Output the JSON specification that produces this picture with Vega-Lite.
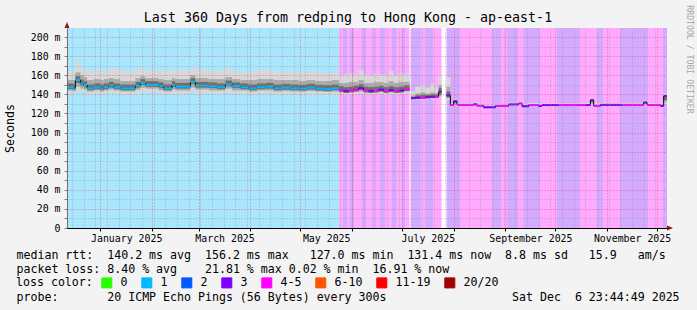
{
  "$schema": "https://vega.github.io/schema/vega-lite/v6.json",
  "width": 600,
  "height": 200,
  "autosize": {"type": "none"},
  "padding": {"left": 67, "top": 28, "right": 30, "bottom": 82},
  "background": "#f3f3f3",
  "config": {
    "view": {"fill": "white", "stroke": null},
    "font": "DejaVu Sans Mono",
    "axis": {"labelFont": "DejaVu Sans Mono", "labelFontSize": 9.9, "labelColor": "black", "titleFont": "DejaVu Sans Mono", "titleFontWeight": "normal", "titleColor": "black", "labelFlush": false, "labelOverlap": false, "labelBound": false}
  },
  "title": {"text": "Last 360 Days from redping to Hong Kong - ap-east-1", "font": "DejaVu Sans Mono", "fontSize": 13.3, "fontWeight": "normal", "color": "black", "anchor": "middle", "frame": "group", "dx": -19, "dy": 24, "offset": 4},
  "datasets": {
    "bg": [
      {"t": "2024-12-11T23:45:00Z", "e": "2025-05-24T04:00:00Z", "L": "1"},
      {"t": "2025-05-24T04:00:00Z", "e": "2025-05-26T14:00:00Z", "L": "4-5"},
      {"t": "2025-05-26T14:00:00Z", "e": "2025-05-29T04:00:00Z", "L": "3"},
      {"t": "2025-05-29T04:00:00Z", "e": "2025-05-30T19:00:00Z", "L": "4-5"},
      {"t": "2025-05-30T19:00:00Z", "e": "2025-06-02T04:00:00Z", "L": "3"},
      {"t": "2025-06-02T04:00:00Z", "e": "2025-06-06T19:00:00Z", "L": "4-5"},
      {"t": "2025-06-06T19:00:00Z", "e": "2025-06-09T09:00:00Z", "L": "3"},
      {"t": "2025-06-09T09:00:00Z", "e": "2025-06-12T19:00:00Z", "L": "4-5"},
      {"t": "2025-06-12T19:00:00Z", "e": "2025-06-14T19:00:00Z", "L": "3"},
      {"t": "2025-06-14T19:00:00Z", "e": "2025-06-17T19:00:00Z", "L": "4-5"},
      {"t": "2025-06-17T19:00:00Z", "e": "2025-06-20T19:00:00Z", "L": "3"},
      {"t": "2025-06-20T19:00:00Z", "e": "2025-06-24T19:00:00Z", "L": "4-5"},
      {"t": "2025-06-24T19:00:00Z", "e": "2025-06-27T19:00:00Z", "L": "3"},
      {"t": "2025-06-27T19:00:00Z", "e": "2025-06-30T19:00:00Z", "L": "4-5"},
      {"t": "2025-06-30T19:00:00Z", "e": "2025-07-02T19:00:00Z", "L": "3"},
      {"t": "2025-07-02T19:00:00Z", "e": "2025-07-05T12:00:00Z", "L": "4-5"},
      {"t": "2025-07-06T09:00:00Z", "e": "2025-07-12T19:00:00Z", "L": "3"},
      {"t": "2025-07-12T19:00:00Z", "e": "2025-07-14T19:00:00Z", "L": "4-5"},
      {"t": "2025-07-14T19:00:00Z", "e": "2025-07-19T14:00:00Z", "L": "3"},
      {"t": "2025-07-19T14:00:00Z", "e": "2025-07-24T17:00:00Z", "L": "4-5"},
      {"t": "2025-07-27T17:00:00Z", "e": "2025-08-04T19:00:00Z", "L": "3"},
      {"t": "2025-08-04T19:00:00Z", "e": "2025-08-23T19:00:00Z", "L": "4-5"},
      {"t": "2025-08-23T19:00:00Z", "e": "2025-08-29T19:00:00Z", "L": "3"},
      {"t": "2025-08-29T19:00:00Z", "e": "2025-09-01T19:00:00Z", "L": "4-5"},
      {"t": "2025-09-01T19:00:00Z", "e": "2025-09-08T18:00:00Z", "L": "3"},
      {"t": "2025-09-08T18:00:00Z", "e": "2025-09-11T18:00:00Z", "L": "4-5"},
      {"t": "2025-09-11T18:00:00Z", "e": "2025-09-21T19:00:00Z", "L": "3"},
      {"t": "2025-09-21T19:00:00Z", "e": "2025-10-01T19:00:00Z", "L": "4-5"},
      {"t": "2025-10-01T19:00:00Z", "e": "2025-10-15T19:00:00Z", "L": "3"},
      {"t": "2025-10-15T19:00:00Z", "e": "2025-10-25T19:00:00Z", "L": "4-5"},
      {"t": "2025-10-25T19:00:00Z", "e": "2025-10-29T18:00:00Z", "L": "3"},
      {"t": "2025-10-29T18:00:00Z", "e": "2025-11-08T19:00:00Z", "L": "4-5"},
      {"t": "2025-11-08T19:00:00Z", "e": "2025-11-25T14:00:00Z", "L": "3"},
      {"t": "2025-11-25T14:00:00Z", "e": "2025-12-04T10:00:00Z", "L": "4-5"},
      {"t": "2025-12-04T10:00:00Z", "e": "2025-12-06T23:45:00Z", "L": "3"}
    ],
    "rtt": [
      {"t": "2024-12-11T23:45:00Z", "e": "2024-12-16", "m": 147.4, "lo": 141, "q1": 144, "n1": 145.4, "n2": 151.4, "q3": 155, "hi": 163, "L": "1", "s": 1},
      {"t": "2024-12-16", "e": "2024-12-17", "m": 146.3, "lo": 140, "q1": 143, "n1": 144.3, "n2": 150.3, "q3": 155, "hi": 164, "L": "1", "s": 1},
      {"t": "2024-12-17", "e": "2024-12-20", "m": 155, "lo": 143, "q1": 148, "n1": 152, "n2": 159, "q3": 163, "hi": 174, "L": "1", "s": 1},
      {"t": "2024-12-20", "e": "2024-12-22", "m": 151.5, "lo": 142, "q1": 146, "n1": 149, "n2": 155.5, "q3": 160, "hi": 168, "L": "1", "s": 1},
      {"t": "2024-12-22", "e": "2024-12-24", "m": 149.8, "lo": 141, "q1": 145, "n1": 147.8, "n2": 153.8, "q3": 158, "hi": 166, "L": "1", "s": 1},
      {"t": "2024-12-24", "e": "2024-12-28", "m": 146.3, "lo": 140, "q1": 143, "n1": 144.3, "n2": 150.3, "q3": 155, "hi": 164, "L": "1", "s": 1},
      {"t": "2024-12-28", "e": "2025-01-01", "m": 147.4, "lo": 141, "q1": 144, "n1": 145.4, "n2": 151.4, "q3": 156, "hi": 166, "L": "1", "s": 1},
      {"t": "2025-01-01", "e": "2025-01-03", "m": 146.3, "lo": 140, "q1": 143, "n1": 144.3, "n2": 150.3, "q3": 155, "hi": 163, "L": "1", "s": 1},
      {"t": "2025-01-03", "e": "2025-01-06", "m": 147.4, "lo": 141, "q1": 144, "n1": 145.4, "n2": 151.4, "q3": 156, "hi": 165, "L": "1", "s": 1},
      {"t": "2025-01-06", "e": "2025-01-09", "m": 149.1, "lo": 142, "q1": 145, "n1": 147.1, "n2": 153.1, "q3": 157, "hi": 168, "L": "1", "s": 1},
      {"t": "2025-01-09", "e": "2025-01-13", "m": 147.4, "lo": 141, "q1": 144, "n1": 145.4, "n2": 151.4, "q3": 156, "hi": 167, "L": "1", "s": 1},
      {"t": "2025-01-13", "e": "2025-01-22", "m": 146.3, "lo": 140, "q1": 143, "n1": 144.3, "n2": 150.3, "q3": 154, "hi": 164, "L": "1", "s": 1},
      {"t": "2025-01-22", "e": "2025-01-25", "m": 149, "lo": 141, "q1": 145, "n1": 147, "n2": 153, "q3": 157, "hi": 166, "L": "1", "s": 1},
      {"t": "2025-01-25", "e": "2025-01-28", "m": 151.9, "lo": 142, "q1": 147, "n1": 149.9, "n2": 155.9, "q3": 159, "hi": 169, "L": "1", "s": 1},
      {"t": "2025-01-28", "e": "2025-02-05", "m": 149.8, "lo": 142, "q1": 146, "n1": 147.8, "n2": 153.8, "q3": 157, "hi": 165, "L": "1", "s": 1},
      {"t": "2025-02-05", "e": "2025-02-08", "m": 148.5, "lo": 141, "q1": 144, "n1": 146.5, "n2": 152.5, "q3": 156, "hi": 165, "L": "1", "s": 1},
      {"t": "2025-02-08", "e": "2025-02-13", "m": 146.3, "lo": 140, "q1": 143, "n1": 144.3, "n2": 150.3, "q3": 155, "hi": 164, "L": "1", "s": 1},
      {"t": "2025-02-13", "e": "2025-02-15", "m": 149.8, "lo": 141, "q1": 145, "n1": 147.8, "n2": 153.8, "q3": 157, "hi": 166, "L": "1", "s": 1},
      {"t": "2025-02-15", "e": "2025-02-24", "m": 148, "lo": 141, "q1": 144, "n1": 146, "n2": 152, "q3": 156, "hi": 165, "L": "1", "s": 1},
      {"t": "2025-02-24", "e": "2025-02-27", "m": 153, "lo": 143, "q1": 147, "n1": 151, "n2": 157, "q3": 160, "hi": 169, "L": "1", "s": 1},
      {"t": "2025-02-27", "e": "2025-03-07", "m": 149, "lo": 141, "q1": 145, "n1": 147, "n2": 153, "q3": 157, "hi": 166, "L": "1", "s": 1},
      {"t": "2025-03-07", "e": "2025-03-12", "m": 148.5, "lo": 141, "q1": 144, "n1": 146.5, "n2": 152.5, "q3": 156, "hi": 164, "L": "1", "s": 1},
      {"t": "2025-03-12", "e": "2025-03-17", "m": 147.4, "lo": 141, "q1": 144, "n1": 145.4, "n2": 151.4, "q3": 156, "hi": 165, "L": "1", "s": 1},
      {"t": "2025-03-17", "e": "2025-03-21", "m": 150.5, "lo": 142, "q1": 146, "n1": 148.5, "n2": 154.5, "q3": 158, "hi": 168, "L": "1", "s": 1},
      {"t": "2025-03-21", "e": "2025-03-26", "m": 148.5, "lo": 141, "q1": 144, "n1": 146.5, "n2": 152.5, "q3": 156, "hi": 164, "L": "1", "s": 1},
      {"t": "2025-03-26", "e": "2025-03-31", "m": 147.4, "lo": 141, "q1": 144, "n1": 145.4, "n2": 151.4, "q3": 155, "hi": 163, "L": "1", "s": 1},
      {"t": "2025-03-31", "e": "2025-04-05", "m": 146.3, "lo": 140, "q1": 143, "n1": 144.3, "n2": 150.3, "q3": 155, "hi": 163, "L": "1", "s": 1},
      {"t": "2025-04-05", "e": "2025-04-10", "m": 147.4, "lo": 141, "q1": 144, "n1": 145.4, "n2": 151.4, "q3": 156, "hi": 165, "L": "1", "s": 1},
      {"t": "2025-04-10", "e": "2025-04-15", "m": 148, "lo": 141, "q1": 144, "n1": 146, "n2": 152, "q3": 156, "hi": 166, "L": "1", "s": 1},
      {"t": "2025-04-15", "e": "2025-04-20", "m": 146.3, "lo": 140, "q1": 143, "n1": 144.3, "n2": 150.3, "q3": 155, "hi": 163, "L": "1", "s": 1},
      {"t": "2025-04-20", "e": "2025-04-25", "m": 147, "lo": 141, "q1": 143.5, "n1": 145, "n2": 151, "q3": 155, "hi": 164, "L": "1", "s": 1},
      {"t": "2025-04-25", "e": "2025-04-30", "m": 146.3, "lo": 140, "q1": 143, "n1": 144.3, "n2": 150.3, "q3": 155, "hi": 163, "L": "1", "s": 1},
      {"t": "2025-04-30", "e": "2025-05-05", "m": 146, "lo": 140, "q1": 143, "n1": 144, "n2": 150, "q3": 154, "hi": 162, "L": "1", "s": 1},
      {"t": "2025-05-05", "e": "2025-05-10", "m": 147, "lo": 141, "q1": 143.5, "n1": 145, "n2": 151, "q3": 155, "hi": 164, "L": "1", "s": 1},
      {"t": "2025-05-10", "e": "2025-05-15", "m": 146, "lo": 140, "q1": 143, "n1": 144, "n2": 150, "q3": 154, "hi": 163, "L": "1", "s": 1},
      {"t": "2025-05-15", "e": "2025-05-20", "m": 145.5, "lo": 140, "q1": 142.5, "n1": 143.5, "n2": 149.5, "q3": 154, "hi": 162, "L": "1", "s": 1},
      {"t": "2025-05-20", "e": "2025-05-24T04:00:00Z", "m": 146.3, "lo": 140, "q1": 143, "n1": 144.3, "n2": 150.3, "q3": 155, "hi": 163, "L": "1", "s": 1},
      {"t": "2025-05-24T04:00:00Z", "e": "2025-05-27", "m": 144.6, "lo": 140, "q1": 142, "n1": 142.6, "n2": 148.6, "q3": 152, "hi": 160, "L": "4-5", "s": 2},
      {"t": "2025-05-27", "e": "2025-05-30", "m": 143.5, "lo": 139.5, "q1": 141.5, "n1": 141.5, "n2": 147.5, "q3": 152, "hi": 161, "L": "3", "s": 2},
      {"t": "2025-05-30", "e": "2025-06-02", "m": 144, "lo": 140, "q1": 142, "n1": 142, "n2": 148, "q3": 153, "hi": 162, "L": "4-5", "s": 2},
      {"t": "2025-06-02", "e": "2025-06-05", "m": 145, "lo": 140, "q1": 142.5, "n1": 143, "n2": 149, "q3": 153, "hi": 161, "L": "4-5", "s": 2},
      {"t": "2025-06-05", "e": "2025-06-08", "m": 146.5, "lo": 141, "q1": 143, "n1": 144.5, "n2": 150.5, "q3": 155, "hi": 165.5, "L": "3", "s": 2},
      {"t": "2025-06-08", "e": "2025-06-11", "m": 144, "lo": 140, "q1": 142, "n1": 142, "n2": 148, "q3": 152, "hi": 161, "L": "4-5", "s": 2},
      {"t": "2025-06-11", "e": "2025-06-14", "m": 143.5, "lo": 139.5, "q1": 141.5, "n1": 141.5, "n2": 147.5, "q3": 152, "hi": 160, "L": "3", "s": 2},
      {"t": "2025-06-14", "e": "2025-06-17", "m": 144, "lo": 140, "q1": 142, "n1": 142, "n2": 148, "q3": 153, "hi": 162, "L": "4-5", "s": 2},
      {"t": "2025-06-17", "e": "2025-06-20", "m": 145, "lo": 140, "q1": 142.5, "n1": 143, "n2": 149, "q3": 153, "hi": 161, "L": "3", "s": 2},
      {"t": "2025-06-20", "e": "2025-06-23", "m": 143.5, "lo": 139.5, "q1": 141.5, "n1": 141.5, "n2": 147.5, "q3": 152, "hi": 160, "L": "4-5", "s": 2},
      {"t": "2025-06-23", "e": "2025-06-26", "m": 144.5, "lo": 140, "q1": 142, "n1": 142.5, "n2": 148.5, "q3": 154, "hi": 164.5, "L": "3", "s": 2},
      {"t": "2025-06-26", "e": "2025-06-29", "m": 143.5, "lo": 139.5, "q1": 141.5, "n1": 141.5, "n2": 147.5, "q3": 152, "hi": 160, "L": "4-5", "s": 2},
      {"t": "2025-06-29", "e": "2025-07-02", "m": 144, "lo": 140, "q1": 142, "n1": 142, "n2": 148, "q3": 153, "hi": 162, "L": "3", "s": 2},
      {"t": "2025-07-02", "e": "2025-07-05T12:00:00Z", "m": 145.5, "lo": 140.5, "q1": 143, "n1": 143.5, "n2": 149.5, "q3": 153, "hi": 161, "L": "4-5", "s": 2},
      {"t": "2025-07-06T09:00:00Z", "e": "2025-07-09", "m": 136, "lo": 134, "q1": 135, "n1": 135, "n2": 137.5, "q3": 139, "hi": 143, "L": "3", "s": 3},
      {"t": "2025-07-09", "e": "2025-07-12", "m": 136.5, "lo": 134.5, "q1": 135.5, "n1": 135.5, "n2": 139, "q3": 141, "hi": 148, "L": "3", "s": 3},
      {"t": "2025-07-12", "e": "2025-07-15", "m": 136.5, "lo": 134.5, "q1": 135.5, "n1": 135.5, "n2": 139.5, "q3": 142, "hi": 150, "L": "4-5", "s": 3},
      {"t": "2025-07-15", "e": "2025-07-18", "m": 137, "lo": 135, "q1": 136, "n1": 136, "n2": 139.5, "q3": 141, "hi": 147, "L": "3", "s": 3},
      {"t": "2025-07-18", "e": "2025-07-21", "m": 137.5, "lo": 135, "q1": 136, "n1": 136.5, "n2": 140, "q3": 142, "hi": 151, "L": "3", "s": 3},
      {"t": "2025-07-21", "e": "2025-07-23", "m": 137.5, "lo": 135, "q1": 136, "n1": 136.5, "n2": 140, "q3": 141, "hi": 147, "L": "4-5", "s": 3},
      {"t": "2025-07-23", "e": "2025-07-24T17:00:00Z", "m": 142.8, "lo": 136, "q1": 138, "n1": 140, "n2": 147, "q3": 150, "hi": 160, "L": "3", "s": 3},
      {"t": "2025-07-27T17:00:00Z", "e": "2025-07-30", "m": 139, "lo": 134, "q1": 136, "n1": 137, "n2": 143, "q3": 148, "hi": 158, "L": "3", "s": 4},
      {"t": "2025-07-30", "e": "2025-08-01", "m": 128.8, "lo": 127.5, "q1": 128, "n1": 128.3, "n2": 129.5, "q3": 130, "hi": 131, "L": "4-5", "s": 4},
      {"t": "2025-08-01", "e": "2025-08-03", "m": 133, "lo": 128, "q1": 129, "n1": 131, "n2": 133.5, "q3": 133.5, "hi": 135, "L": "3", "s": 4},
      {"t": "2025-08-03", "e": "2025-08-13", "m": 129, "lo": 128, "q1": 128.5, "n1": 128.5, "n2": 129.5, "q3": 129.8, "hi": 131, "L": "4-5", "s": 4},
      {"t": "2025-08-13", "e": "2025-08-15", "m": 129.5, "lo": 128.5, "q1": 129, "n1": 129, "n2": 130, "q3": 130.5, "hi": 132, "L": "3", "s": 4},
      {"t": "2025-08-15", "e": "2025-08-19", "m": 128.1, "lo": 127, "q1": 127.5, "n1": 127.6, "n2": 128.6, "q3": 129, "hi": 130, "L": "4-5", "s": 4},
      {"t": "2025-08-19", "e": "2025-08-26", "m": 126.4, "lo": 125.5, "q1": 126, "n1": 126, "n2": 126.9, "q3": 127, "hi": 128, "L": "3", "s": 4},
      {"t": "2025-08-26", "e": "2025-09-03", "m": 128, "lo": 127, "q1": 127.5, "n1": 127.5, "n2": 128.5, "q3": 128.8, "hi": 130, "L": "4-5", "s": 4},
      {"t": "2025-09-03", "e": "2025-09-09", "m": 129.4, "lo": 128.5, "q1": 129, "n1": 129, "n2": 130, "q3": 130.2, "hi": 131.5, "L": "3", "s": 4},
      {"t": "2025-09-09", "e": "2025-09-11", "m": 130.5, "lo": 129, "q1": 130, "n1": 130, "n2": 131, "q3": 131.5, "hi": 133, "L": "4-5", "s": 4},
      {"t": "2025-09-11", "e": "2025-09-15", "m": 127.5, "lo": 126.5, "q1": 127, "n1": 127, "n2": 128, "q3": 128.5, "hi": 130, "L": "3", "s": 4},
      {"t": "2025-09-15", "e": "2025-09-21", "m": 128.8, "lo": 128, "q1": 128.3, "n1": 128.3, "n2": 129.3, "q3": 129.5, "hi": 131, "L": "4-5", "s": 4},
      {"t": "2025-09-21", "e": "2025-09-23", "m": 127.9, "lo": 127, "q1": 127.5, "n1": 127.5, "n2": 128.4, "q3": 128.8, "hi": 130, "L": "3", "s": 4},
      {"t": "2025-09-23", "e": "2025-10-03", "m": 128.8, "lo": 128, "q1": 128.3, "n1": 128.3, "n2": 129.3, "q3": 129.5, "hi": 130.5, "L": "3", "s": 4},
      {"t": "2025-10-03", "e": "2025-10-19", "m": 128.8, "lo": 128, "q1": 128.3, "n1": 128.3, "n2": 129.3, "q3": 129.5, "hi": 130.5, "L": "4-5", "s": 4},
      {"t": "2025-10-19", "e": "2025-10-22", "m": 128.8, "lo": 128, "q1": 128.3, "n1": 128.3, "n2": 129.3, "q3": 129.5, "hi": 131, "L": "3", "s": 4},
      {"t": "2025-10-22", "e": "2025-10-24", "m": 134, "lo": 128.5, "q1": 130, "n1": 132, "n2": 134.5, "q3": 134.5, "hi": 136, "L": "3", "s": 4},
      {"t": "2025-10-24", "e": "2025-10-28", "m": 128, "lo": 127, "q1": 127.5, "n1": 127.5, "n2": 128.5, "q3": 129, "hi": 130.5, "L": "4-5", "s": 4},
      {"t": "2025-10-28", "e": "2025-11-10", "m": 129, "lo": 128, "q1": 128.5, "n1": 128.5, "n2": 129.5, "q3": 129.8, "hi": 131, "L": "3", "s": 4},
      {"t": "2025-11-10", "e": "2025-11-23", "m": 129, "lo": 128, "q1": 128.5, "n1": 128.5, "n2": 129.5, "q3": 129.8, "hi": 131, "L": "4-5", "s": 4},
      {"t": "2025-11-23", "e": "2025-11-25", "m": 131.6, "lo": 128.5, "q1": 129.5, "n1": 130.5, "n2": 132, "q3": 132, "hi": 133.5, "L": "3", "s": 4},
      {"t": "2025-11-25", "e": "2025-12-03", "m": 128.8, "lo": 128, "q1": 128.3, "n1": 128.3, "n2": 129.3, "q3": 129.5, "hi": 131, "L": "4-5", "s": 4},
      {"t": "2025-12-03", "e": "2025-12-05", "m": 128, "lo": 127, "q1": 127.5, "n1": 127.5, "n2": 128.5, "q3": 128.8, "hi": 130, "L": "3", "s": 4},
      {"t": "2025-12-05", "e": "2025-12-06T23:45:00Z", "m": 138.3, "lo": 130, "q1": 132, "n1": 134, "n2": 139, "q3": 139, "hi": 141, "L": "3", "s": 4}
    ],
    "arr": [
      {"t": "2025-12-06T23:45:00Z", "v": 0, "k": "x"},
      {"t": "2024-12-11T23:45:00Z", "v": 209.5, "k": "y"}
    ]
  },
  "layer": [
    {
      "data": {"name": "bg"},
      "mark": {"type": "rect", "opacity": 0.333},
      "encoding": {
        "x": {"field": "t", "type": "temporal", "scale": {"type": "utc", "nice": false, "domain": [{"year": 2024, "month": 12, "date": 11, "hours": 23, "minutes": 45, "utc": true}, {"year": 2025, "month": 12, "date": 6, "hours": 23, "minutes": 45, "utc": true}]},
          "axis": {"orient": "bottom", "tickCount": {"interval": "week", "step": 1}, "grid": true, "gridColor": "#8c8c8c", "gridOpacity": 0.6, "gridDash": [1, 2], "labels": false, "ticks": false, "domain": false, "zindex": 1,
            "title": "probe:\u00a0\u00a0\u00a0\u00a0\u00a0\u00a0\u00a020 ICMP Echo Pings (56 Bytes) every 300s\u00a0\u00a0\u00a0\u00a0\u00a0\u00a0\u00a0\u00a0\u00a0\u00a0\u00a0\u00a0\u00a0\u00a0\u00a0\u00a0\u00a0\u00a0Sat Dec\u00a0\u00a06 23:44:49 2025",
            "titleFontSize": 11.6, "titleX": -51, "titleY": 63, "titleAnchor": "start", "titleAlign": "left", "titleBaseline": "top", "titleAngle": 0}},
        "x2": {"field": "e"},
        "color": {"field": "L", "type": "nominal",
          "scale": {"domain": ["0", "1", "2", "3", "4-5", "6-10", "11-19", "20/20"], "range": ["#26ff00", "#00b8ff", "#0059ff", "#7e00ff", "#ff00ff", "#ff5500", "#ff0000", "#a10000"]},
          "legend": {"orient": "none", "legendX": -51, "legendY": 249, "direction": "horizontal", "columns": 8, "title": "loss color:", "titleOrient": "left", "titleFont": "DejaVu Sans Mono", "titleFontSize": 11.6, "titleFontWeight": "normal", "titleColor": "black", "titlePadding": 8, "labelFont": "DejaVu Sans Mono", "labelFontSize": 11.6, "labelColor": "black", "symbolType": "square", "symbolSize": 100, "symbolStrokeColor": "black", "symbolStrokeWidth": 1, "symbolOpacity": 1, "labelOffset": 8, "columnPadding": 11,
            "encode": {"symbols": {"update": {"fill": {"scale": "color", "field": "value"}, "fillOpacity": {"value": 1}, "opacity": {"value": 1}, "stroke": {"value": "black"}, "strokeWidth": {"value": 1}}}}}}
      }
    },
    {
      "data": {"name": "rtt"},
      "mark": {"type": "rect", "color": "#d8d8d8"},
      "encoding": {
        "x": {"field": "t", "type": "temporal", "scale": {"type": "utc", "nice": false, "domain": [{"year": 2024, "month": 12, "date": 11, "hours": 23, "minutes": 45, "utc": true}, {"year": 2025, "month": 12, "date": 6, "hours": 23, "minutes": 45, "utc": true}]},
          "axis": {"orient": "bottom", "tickCount": {"interval": "month", "step": 1}, "grid": true, "gridColor": "#e03030", "gridOpacity": 0.55, "gridDash": [1, 2], "labels": false, "ticks": true, "tickSize": 3, "tickColor": "black", "domain": false, "title": null, "zindex": 1}},
        "x2": {"field": "e"},
        "y": {"field": "lo", "type": "quantitative", "scale": {"domain": [0, 209.5], "nice": false, "zero": false},
          "axis": {"orient": "left", "values": [0, 10, 20, 30, 40, 50, 60, 70, 80, 90, 100, 110, 120, 130, 140, 150, 160, 170, 180, 190, 200],
            "labelExpr": "datum.value % 20 == 0 ? (datum.value == 0 ? '0' : datum.value + ' m') : ''",
            "grid": true, "gridDash": [1, 2],
            "gridColor": {"condition": {"test": "datum.value % 20 == 0", "value": "#e03030"}, "value": "#8c8c8c"},
            "gridOpacity": {"condition": {"test": "datum.value % 20 == 0", "value": 0.55}, "value": 0.6},
            "tickSize": 3, "tickColor": "#808080", "labelPadding": 4, "domainColor": "#707070", "zindex": 1,
            "title": "Seconds", "titleFontSize": 11.6, "titleAngle": 270, "titleX": -57, "titleY": 100, "titleAlign": "center", "titleBaseline": "middle"}},
        "y2": {"field": "hi"}
      }
    },
    {
      "data": {"name": "rtt"},
      "mark": {"type": "rect", "color": "#ababab"},
      "encoding": {
        "x": {"field": "t", "type": "temporal", "scale": {"type": "utc", "nice": false, "domain": [{"year": 2024, "month": 12, "date": 11, "hours": 23, "minutes": 45, "utc": true}, {"year": 2025, "month": 12, "date": 6, "hours": 23, "minutes": 45, "utc": true}]}, "axis": null},
        "x2": {"field": "e"},
        "y": {"field": "q1", "type": "quantitative", "scale": {"domain": [0, 209.5], "nice": false, "zero": false}, "axis": null},
        "y2": {"field": "q3"}
      }
    },
    {
      "data": {"name": "rtt"},
      "mark": {"type": "rect", "color": "#6e6e6e"},
      "encoding": {
        "x": {"field": "t", "type": "temporal", "scale": {"type": "utc", "nice": false, "domain": [{"year": 2024, "month": 12, "date": 11, "hours": 23, "minutes": 45, "utc": true}, {"year": 2025, "month": 12, "date": 6, "hours": 23, "minutes": 45, "utc": true}]}, "axis": null},
        "x2": {"field": "e"},
        "y": {"field": "n1", "type": "quantitative", "scale": {"domain": [0, 209.5], "nice": false, "zero": false}, "axis": null},
        "y2": {"field": "n2"}
      }
    },
    {
      "data": {"name": "rtt"},
      "mark": {"type": "line", "color": "black", "strokeWidth": 1, "interpolate": "step-after"},
      "encoding": {
        "x": {"field": "t", "type": "temporal", "scale": {"type": "utc", "nice": false, "domain": [{"year": 2024, "month": 12, "date": 11, "hours": 23, "minutes": 45, "utc": true}, {"year": 2025, "month": 12, "date": 6, "hours": 23, "minutes": 45, "utc": true}]}, "axis": null},
        "y": {"field": "m", "type": "quantitative", "scale": {"domain": [0, 209.5], "nice": false, "zero": false}, "axis": null},
        "detail": {"field": "s", "type": "nominal"}
      }
    },
    {
      "data": {"name": "rtt"},
      "mark": {"type": "rule", "strokeWidth": 2},
      "encoding": {
        "x": {"field": "t", "type": "temporal", "scale": {"type": "utc", "nice": false, "domain": [{"year": 2024, "month": 12, "date": 11, "hours": 23, "minutes": 45, "utc": true}, {"year": 2025, "month": 12, "date": 6, "hours": 23, "minutes": 45, "utc": true}]},
          "axis": {"orient": "bottom", "values": [
              {"year": 2025, "month": 1, "date": 16, "hours": 12, "utc": true},
              {"year": 2025, "month": 3, "date": 16, "hours": 12, "utc": true},
              {"year": 2025, "month": 5, "date": 16, "hours": 12, "utc": true},
              {"year": 2025, "month": 7, "date": 16, "hours": 12, "utc": true},
              {"year": 2025, "month": 9, "date": 16, "utc": true},
              {"year": 2025, "month": 11, "date": 16, "utc": true}],
            "labelExpr": "utcFormat(datum.value, '%B %Y')", "grid": false, "ticks": false, "tickSize": 0, "labelPadding": 5, "domain": true, "domainColor": "black", "domainWidth": 1, "zindex": 2,
            "title": [
              "median rtt:\u00a0\u00a0140.2 ms avg\u00a0\u00a0156.2 ms max\u00a0\u00a0\u00a0127.0 ms min\u00a0\u00a0131.4 ms now\u00a0\u00a08.8 ms sd\u00a0\u00a0\u00a015.9\u00a0\u00a0\u00a0am/s",
              "packet loss: 8.40 % avg\u00a0\u00a0\u00a0\u00a021.81 % max 0.02 % min\u00a0\u00a016.91 % now"],
            "titleFontSize": 11.6, "titleLineHeight": 14, "titleX": -51, "titleY": 21, "titleAnchor": "start", "titleAlign": "left", "titleBaseline": "top", "titleAngle": 0}},
        "x2": {"field": "e"},
        "y": {"field": "m", "type": "quantitative", "scale": {"domain": [0, 209.5], "nice": false, "zero": false}, "axis": null},
        "color": {"field": "L", "type": "nominal", "scale": {"domain": ["0", "1", "2", "3", "4-5", "6-10", "11-19", "20/20"], "range": ["#26ff00", "#00b8ff", "#0059ff", "#7e00ff", "#ff00ff", "#ff5500", "#ff0000", "#a10000"]}, "legend": null}
      }
    },
    {
      "data": {"name": "arr"},
      "mark": {"type": "point", "filled": true, "size": 25, "color": "#8b1a1a", "opacity": 1},
      "encoding": {
        "x": {"field": "t", "type": "temporal", "scale": {"type": "utc", "nice": false, "domain": [{"year": 2024, "month": 12, "date": 11, "hours": 23, "minutes": 45, "utc": true}, {"year": 2025, "month": 12, "date": 6, "hours": 23, "minutes": 45, "utc": true}]}, "axis": null},
        "y": {"field": "v", "type": "quantitative", "scale": {"domain": [0, 209.5], "nice": false, "zero": false},
          "axis": {"orient": "right", "labels": false, "ticks": false, "domain": false, "grid": false, "title": "RRDTOOL / TOBI OETIKER", "titleColor": "#a8a8a8", "titleFontSize": 8.2, "titleAngle": 90, "titleX": 21, "titleY": 31, "titleAlign": "center", "titleBaseline": "middle"}},
        "shape": {"field": "k", "type": "nominal", "scale": {"domain": ["x", "y"], "range": ["M0,-1L2.4,0L0,1Z", "M-1,0L0,-2.4L1,0Z"]}, "legend": null}
      }
    }
  ],
  "resolve": {"axis": {"x": "independent", "y": "independent"}}
}
